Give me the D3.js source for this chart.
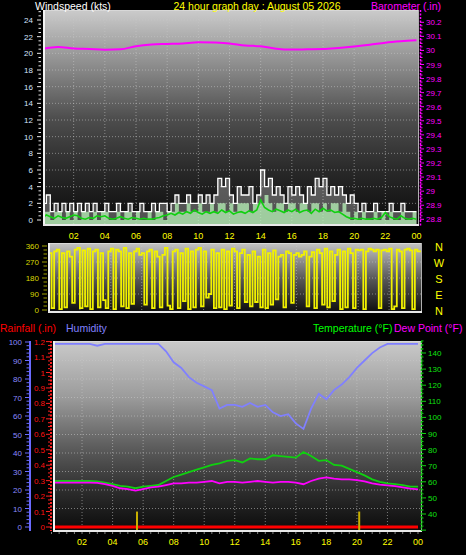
<!DOCTYPE html>
<html><head><meta charset="utf-8">
<script src="https://cdn.jsdelivr.net/npm/d3@7"></script>
<style>
html,body{margin:0;padding:0;background:#000;}
svg{display:block;font-family:"Liberation Sans",Arial,sans-serif;}
</style></head><body>
<svg id="c" width="466" height="555"></svg>
<script>
// ---------- DATA ----------
const hourLabels = ["02","04","06","08","10","12","14","16","18","20","22","00"];
const windTicks = [0,2,4,6,8,10,12,14,16,18,20,22,24];
const baroTicks = [28.8,28.9,29,29.1,29.2,29.3,29.4,29.5,29.6,29.7,29.8,29.9,30,30.1,30.2];
const dirTicks = [0,90,180,270,360];
const compass = ["N","W","S","E","N"];
const humTicks = [0,10,20,30,40,50,60,70,80,90,100];
const rainTicks = [0,0.1,0.2,0.3,0.4,0.5,0.6,0.7,0.8,0.9,1,1.1,1.2];
const tempTicks = [40,50,60,70,80,90,100,110,120,130,140];

// wind (kts) every 15 minutes, 00:00 .. 24:00
const windGust = [2,3,1,2, 1,2,1,2, 1,2,1,2, 1,2,1,1, 2,1,1,2, 1,1,2,1,
  1,2,1,1, 2,1,2,2, 1,2,3,2, 2,3,2,2, 3,2,3,2, 3,5,4,5,
  3,2,4,3, 3,4,2,3, 6,4,5,3, 4,3,2,4, 3,4,3,2, 4,3,5,4,
  5,3,4,3, 4,3,2,3, 2,1,2,1, 1,2,1,1, 1,2,1,1, 2,1,1,1, 1];
const windSpeed = [1,1,0,1, 1,0,1,0, 1,0,1,1, 0,1,0,1, 1,0,0,1, 0,1,1,0,
  1,0,0,1, 0,1,1,0, 1,1,2,1, 1,2,1,1, 2,1,1,2, 1,2,2,1,
  2,1,2,2, 2,1,2,2, 2,3,2,1, 2,2,1,2, 2,1,2,2, 1,2,2,1,
  2,1,2,2, 1,2,1,0, 1,0,1,0, 0,1,0,1, 0,1,0,0, 1,0,0,1, 0];
const windAvg = [0.3,0.6,0.4,0.2, 0.5,0.3,0.2,0.4, 0.6,0.5,0.2,0.1, 0.3,0.2,0.5,0.4,
  0.5,0.2,0.1,0.2, 0.4,0.2,0.1,0.3, 0.2,0.1,0.2,0.1, 0.1,0.2,0.3,0.5,
  0.6,0.8,0.6,0.9, 0.7,1.0,0.8,1.2, 0.9,0.7,1.0,0.8, 1.0,0.8,1.2,0.9,
  1.1,0.7,0.9,1.0, 0.8,1.1,0.9,1.2, 2.4,1.5,1.2,1.0, 1.3,1.1,0.9,1.2,
  1.0,1.3,0.9,1.1, 1.2,0.8,1.3,1.0, 1.4,1.1,1.2,0.9, 1.0,0.7,0.4,0.2,
  0.2,0.1,0.2,0.1, 0.1,0.2,0.1,0.3, 0.9,0.4,0.2,0.1, 0.5,0.2,0.1,0.2, 0.1];
// barometer (in) hourly
const barometer = [30.012,30.024,30.014,30.010,30.005,30.008,30.030,30.042,30.046,30.050,
  30.058,30.056,30.050,30.035,30.030,30.012,30.006,30.008,30.010,30.018,30.028,30.040,
  30.055,30.065,30.072];
// wind direction (deg) every 10 minutes
const windDir = [320,10,330,340,5,320, 15,330,300,40,340,350, 10,335,20,345,5,330,
  340,15,320,55,10,330, 345,5,340,330,20,350, 10,320,35,330,345,310,
  320,30,330,340,10,330, 300,15,310,350,25,5, 330,340,10,320,50,345,
  5,330,15,340,350,20, 330,70,90,340,10,320, 15,340,5,330,25,345,
  330,10,320,340,45,310, 20,330,45,300,15,340, 10,320,30,335,60,300,
  310,15,330,320,40,310, 320,300,310,330,20,300, 325,10,340,320,30,345,
  15,330,50,310,340,5, 330,15,345,320,10,340, 335,340,5,330,345,340,
  330,340,10,335,340,330, 345,5,20,340,330,10, 340,345,335,5,340,330, 335];
// every 30 minutes
const humidity = [99,99,99,99,99,99,98,99,99,99,99,99,99,99,99,95,89,86,81,78,76,74,64,66,
  66,65,67,65,66,62,60,61,56,53,64,72,69,74,77,81,86,90,94,97,99,99,99,99,99];
const temperature = [60.5,60.5,60.5,60.5,60.5,60.5,60.3,59.5,58.5,57.5,57,56,57,57.5,58,60.5,
  63,64.5,66,67.5,69,70.5,71.5,73,73.5,72,74.5,74,74,76.5,76,75.5,75,78.5,76,73,73.5,70.5,
  70,68,66,64,61.5,60,59,58.5,58,57,57];
const dewPoint = [59.5,59.5,59.5,59.5,59.5,59.5,59.3,58.5,57.5,56,55.5,54.5,55.5,56.5,57,58,
  59,59,59.5,59.5,60,60.5,59,60,60,59.5,60,60.5,60,59.5,60,60,59.5,58.5,60.5,62,62.8,62,
  61.5,61.5,61,60.3,59,58.3,57.8,57.3,56.5,55.8,55.3];
const rainfall = [0,0];            // daily total at 00:00 and 24:00
const rainRateHours = [5.6,20.15]; // rain-rate spikes
const rainRateValues = [0.1,0.1];

// ---------- DRAW ----------
const svg = d3.select("#c");
const defs = svg.append("defs");
function grad(id, stops){
  const g = defs.append("linearGradient").attr("id",id).attr("x1",0).attr("y1",0).attr("x2",0).attr("y2",1);
  stops.forEach(([o,c])=>g.append("stop").attr("offset",o).attr("stop-color",c));
}
grad("gTop",[[0,"#cbcbcb"],[0.25,"#8e8e8e"],[0.5,"#4e4e4e"],[0.75,"#282828"],[1,"#0a0a0a"]]);
grad("gMid",[[0,"#c4c4c4"],[0.5,"#5a5a5a"],[1,"#0c0c0c"]]);
grad("gBot",[[0,"#cacaca"],[0.3,"#9a9a9a"],[0.55,"#5e5e5e"],[0.8,"#2a2a2a"],[1,"#0a0a0a"]]);
function clip(id,x,y,w,h){ defs.append("clipPath").attr("id",id).append("rect").attr("x",x).attr("y",y).attr("width",w).attr("height",h); }

function panel(x0,y0,x1,y1,g,cid){
  svg.append("rect").attr("x",x0).attr("y",y0).attr("width",x1-x0).attr("height",y1-y0).attr("fill",`url(#${g})`);
  clip(cid,x0,y0,x1-x0,y1-y0);
  return svg.append("g").attr("clip-path",`url(#${cid})`);
}
function frame(x0,y0,x1,y1){
  svg.append("line").attr("x1",x0).attr("x2",x1).attr("y1",y0+0.5).attr("y2",y0+0.5).attr("stroke","#d8d8d8");
  svg.append("line").attr("x1",x1-0.5).attr("x2",x1-0.5).attr("y1",y0).attr("y2",y1).attr("stroke","#b0b0b0");
  svg.append("line").attr("x1",x0+1).attr("x2",x0+1).attr("y1",y0).attr("y2",y1).attr("stroke","#f4f4f4").attr("stroke-width",2);
  svg.append("line").attr("x1",x0).attr("x2",x1).attr("y1",y1-1).attr("y2",y1-1).attr("stroke","#e8e8e8").attr("stroke-width",2);
}
function vgrid(g,x,y0,y1){
  d3.range(2,24,2).forEach(h=>g.append("line").attr("x1",x(h)).attr("x2",x(h)).attr("y1",y0).attr("y2",y1)
    .attr("stroke","#c8c8c8").attr("stroke-opacity",0.55).attr("stroke-dasharray","1,2"));
}
function hgrid(g,y,vals,x0,x1){
  vals.forEach(v=>g.append("line").attr("x1",x0).attr("x2",x1).attr("y1",y(v)).attr("y2",y(v))
    .attr("stroke","#c8c8c8").attr("stroke-opacity",0.55).attr("stroke-dasharray","1,2"));
}
function xLabels(x,yb){
  hourLabels.forEach((t,i)=>svg.append("text").attr("x",x((i+1)*2)).attr("y",yb).attr("text-anchor","middle")
    .attr("fill","#ffff00").attr("font-size","9px").text(t));
}
function text(x,y,t,col,size,anchor){
  return svg.append("text").attr("x",x).attr("y",y).attr("fill",col).attr("font-size",size).attr("text-anchor",anchor||"start").text(t);
}

// ===== TOP PANEL =====
const xTop = d3.scaleLinear().domain([0,24]).range([42.5,416.5]);
const yWind = d3.scaleLinear().domain([0,24]).range([220,20]);
const yBaro = d3.scaleLinear().domain([28.8,30.2]).range([219.3,22.3]);
const gT = panel(43,10,419,226,"gTop","cTop");
vgrid(gT,xTop,10,226);
hgrid(gT,yWind,windTicks.slice(1),43,419);
const q = i=>i*0.25;
gT.append("path").datum(windGust).attr("fill","rgba(235,235,235,0.3)")
  .attr("d",d3.area().curve(d3.curveStepAfter).x((d,i)=>xTop(q(i))).y0(yWind(-1)).y1(d=>yWind(d)));
gT.append("path").datum(windSpeed).attr("fill","rgba(185,245,185,0.75)")
  .attr("d",d3.area().curve(d3.curveStepAfter).x((d,i)=>xTop(q(i))).y0(yWind(-1)).y1(d=>yWind(d)));
gT.append("path").datum(windGust).attr("fill","none").attr("stroke","#ffffff").attr("stroke-width",1.3)
  .attr("d",d3.line().curve(d3.curveStepAfter).x((d,i)=>xTop(q(i))).y(d=>yWind(d)));
gT.append("path").datum(windAvg).attr("fill","none").attr("stroke","#10d010").attr("stroke-width",1.6)
  .attr("d",d3.line().x((d,i)=>xTop(q(i))).y(d=>yWind(d)));
gT.append("path").datum(barometer).attr("fill","none").attr("stroke","#ff00ff").attr("stroke-width",2)
  .attr("d",d3.line().curve(d3.curveMonotoneX).x((d,i)=>xTop(i)).y(d=>yBaro(d)));
frame(43,10,419,226);
// left wind axis
d3.range(0,25.01,0.5).forEach(v=>{
  const major = v%2===0;
  svg.append("line").attr("x1",major?37:38.5).attr("x2",41).attr("y1",yWind(v)).attr("y2",yWind(v)).attr("stroke","#e8e8e8");
});
windTicks.forEach(v=>text(33,yWind(v)+3,String(v),"#d4e4ff","8px","end"));
// right baro axis
svg.append("line").attr("x1",420.5).attr("x2",420.5).attr("y1",10).attr("y2",226).attr("stroke","#ff00ff").attr("stroke-width",1.5).attr("stroke-dasharray","2,1.5");
d3.range(0,57).forEach(k=>{const v=28.8+k*0.025; if(v>30.27)return;
  svg.append("line").attr("x1",420).attr("x2",k%4===0?424:422.5).attr("y1",yBaro(v)).attr("y2",yBaro(v)).attr("stroke","#ff00ff");});
baroTicks.forEach(v=>text(426,yBaro(v)+3,String(+v.toFixed(1)),"#ff00ff","8px"));
xLabels(xTop,238.5);
text(35,9.5,"Windspeed (kts)","#ffffff","10.5px");
text(257,9.5,"24 hour graph day : August 05 2026","#ffff00","10.5px","middle");
text(371,9.5,"Barometer (.in)","#ff00ff","10.5px");

// ===== MIDDLE PANEL =====
const xMid = d3.scaleLinear().domain([0,24]).range([49,420]);
const yDir = d3.scaleLinear().domain([0,360]).range([310,246]);
const gM = panel(48,243,422,313,"gMid","cMid");
vgrid(gM,xMid,243,313);
hgrid(gM,yDir,[90,180,270],48,422);
gM.append("path").datum(windDir).attr("fill","none").attr("stroke","#f2f200").attr("stroke-width",1.8)
  .attr("stroke-linejoin","miter")
  .attr("d",d3.line().curve(d3.curveStepAfter).x((d,i)=>xMid(i/6)).y(d=>yDir(d)));
frame(48,243,422,313);
d3.range(0,361,22.5).forEach(v=>svg.append("line").attr("x1",v%90===0?42:43.5).attr("x2",47).attr("y1",yDir(v)).attr("y2",yDir(v)).attr("stroke","#a0a000"));
dirTicks.forEach(v=>text(39,yDir(v)+3,String(v),"#d8d800","8px","end"));
compass.forEach((c,i)=>text(439,yDir(360-i*90)+4.5,c,"#ffff00","11px","middle"));

// ===== BOTTOM PANEL =====
const xBot = d3.scaleLinear().domain([0,24]).range([51.5,418]);
const yHum = d3.scaleLinear().domain([0,100]).range([527,342]);
const yRain = d3.scaleLinear().domain([0,1.2]).range([527,341.6]);
const yTemp = d3.scaleLinear().domain([40,140]).range([514,353]);
const gB = panel(53,341,422,532,"gBot","cBot");
vgrid(gB,xBot,341,532);
hgrid(gB,yHum,[10,20,30,40,50,60,70,80,90],53,422);
const hh = i=>i*0.5;
gB.append("path").datum(humidity).attr("fill","none").attr("stroke","#8080ff").attr("stroke-width",1.8)
  .attr("d",d3.line().x((d,i)=>xBot(hh(i))).y(d=>yHum(d)));
gB.append("path").datum(temperature).attr("fill","none").attr("stroke","#10d010").attr("stroke-width",1.8)
  .attr("d",d3.line().x((d,i)=>xBot(hh(i))).y(d=>yTemp(d)));
gB.append("path").datum(dewPoint).attr("fill","none").attr("stroke","#ff00ff").attr("stroke-width",1.8)
  .attr("d",d3.line().x((d,i)=>xBot(hh(i))).y(d=>yTemp(d)));
gB.append("path").datum(rainfall).attr("fill","none").attr("stroke","#ff0000").attr("stroke-width",3)
  .attr("d",d3.line().x((d,i)=>xBot(i*24)).y(d=>yRain(d)));
rainRateHours.forEach((h,i)=>gB.append("line").attr("x1",xBot(h)).attr("x2",xBot(h)).attr("y1",yRain(rainRateValues[i])).attr("y2",532)
  .attr("stroke","#c8b000").attr("stroke-width",2));
frame(53,341,422,532);
// humidity axis
svg.append("line").attr("x1",30).attr("x2",30).attr("y1",341).attr("y2",531).attr("stroke","#6a6aff").attr("stroke-width",2);
d3.range(0,101,2).forEach(v=>svg.append("line").attr("x1",v%10===0?25:26.5).attr("x2",29).attr("y1",yHum(v)).attr("y2",yHum(v)).attr("stroke","#6a6aff"));
humTicks.forEach(v=>text(22,yHum(v)+3,String(v),"#8a8aff","8px","end"));
// rain axis
svg.append("line").attr("x1",51).attr("x2",51).attr("y1",341).attr("y2",531).attr("stroke","#ff2020").attr("stroke-width",2).attr("stroke-dasharray","2,1.5");
d3.range(0,49).forEach(k=>svg.append("line").attr("x1",k%4===0?46:48).attr("x2",50).attr("y1",yRain(k*0.025)).attr("y2",yRain(k*0.025)).attr("stroke","#ff2020"));
clip("cRainLab",0,340,60,200);
const rl = svg.append("g").attr("clip-path","url(#cRainLab)");
rainTicks.forEach(v=>rl.append("text").attr("x",45).attr("y",yRain(v)+3).attr("fill","#ff1010").attr("font-size","8px")
  .attr("text-anchor","end").text(String(+v.toFixed(1))));
// temperature axis
svg.append("line").attr("x1",421.5).attr("x2",421.5).attr("y1",341).attr("y2",531).attr("stroke","#10d010").attr("stroke-width",1.5).attr("stroke-dasharray","2,1.5");
d3.range(30,148,2.5).forEach(v=>svg.append("line").attr("x1",421).attr("x2",v%10===0?426:423.5).attr("y1",yTemp(v)).attr("y2",yTemp(v)).attr("stroke","#10d010"));
tempTicks.forEach(v=>text(428,yTemp(v)+3,String(v),"#10e010","8px"));
// x ticks
d3.range(0,24.01,0.5).forEach(h=>svg.append("line").attr("x1",xBot(h)).attr("x2",xBot(h)).attr("y1",532).attr("y2",534).attr("stroke","#808080"));
xLabels(xBot,545);
text(0,331.5,"Rainfall (.in)","#ff0000","10.5px");
text(66,331.5,"Humidity","#8080ff","10.5px");
text(313,331.5,"Temperature (°F)","#00ff00","10.5px");
text(394,331.5,"Dew Point (°F)","#ff00ff","10.5px");
</script>
</body></html>
